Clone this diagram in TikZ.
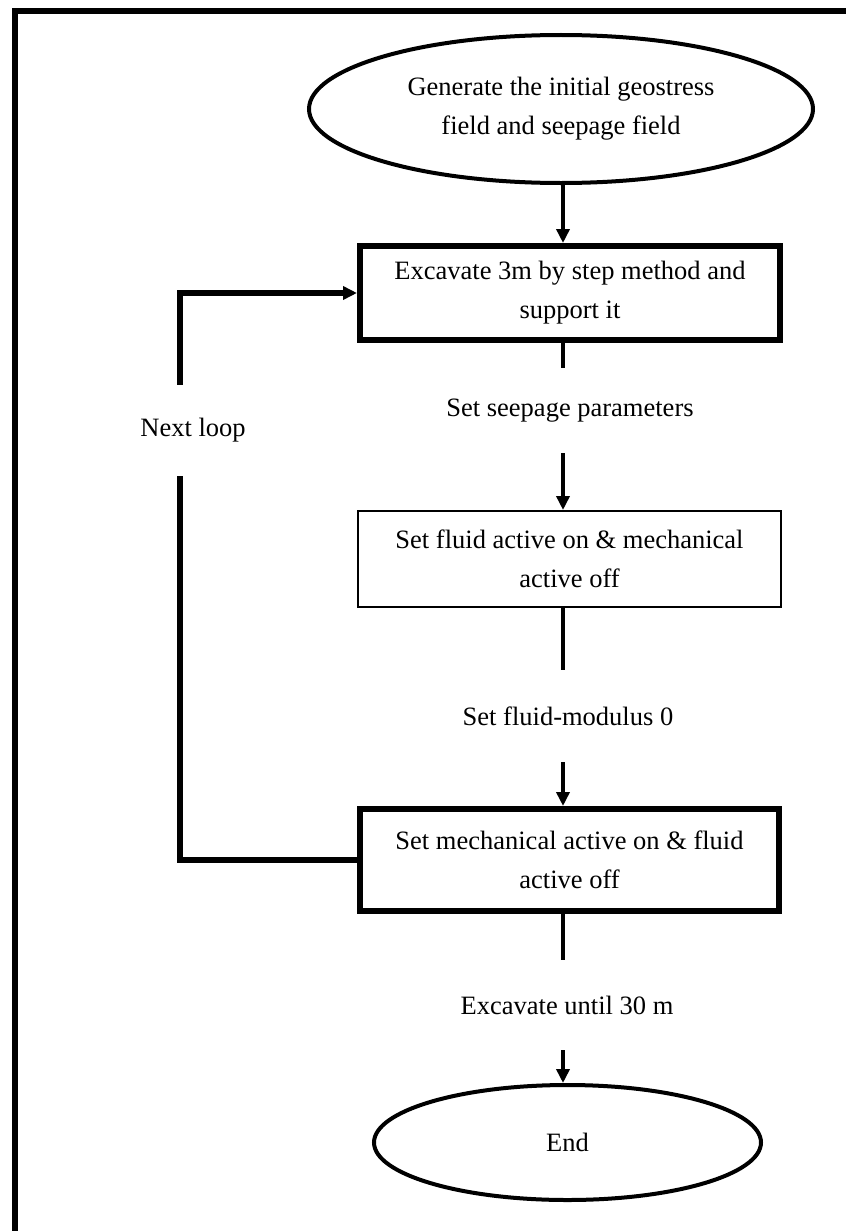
\documentclass[tikz,border=0pt]{standalone}
\usepackage{fontspec}
\setmainfont{Liberation Serif}
\usetikzlibrary{arrows.meta,calc,positioning,shapes.geometric}

\begin{document}
\begin{tikzpicture}[
  x=1pt,y=-1pt,
  >={Triangle[width=13pt,length=14pt]},
  font=\fontsize{26.5}{39}\selectfont,
  terminal/.style={ellipse,draw,line width=4pt,inner sep=0pt,align=center},
  stepbox/.style={rectangle,draw,inner sep=0pt,align=center},
  flowtext/.style={inner sep=0pt,align=center},
  flow/.style={line width=4.5pt},
  loopline/.style={line width=6pt}
]
  \useasboundingbox (0,0) rectangle (846,1231);
  \draw[line width=6pt] (15,1231) -- (15,11) -- (846,11);

  \node[terminal,minimum width=504pt,minimum height=148pt] (start) at (561,109)
    {Generate the initial geostress\\field and seepage field};
  \node[stepbox,line width=6pt,minimum width=420pt,minimum height=94pt] (dig) at (570,293)
    {Excavate 3m by step method and\\support it};
  \node[flowtext,minimum height=85pt] (seep) at (570,410.5) {Set seepage parameters};
  \node[stepbox,line width=2pt,minimum width=423pt,minimum height=96pt] (fluidon) at (569.5,559)
    {Set fluid active on \& mechanical\\active off};
  \node[flowtext,minimum height=92pt] (modulus) at (568,716) {Set fluid-modulus 0};
  \node[stepbox,line width=6pt,minimum width=419pt,minimum height=102pt] (mechon) at (569.5,860)
    {Set mechanical active on \& fluid\\active off};
  \node[flowtext,minimum height=90pt] (until) at (567,1005) {Excavate until 30 m};
  \node[terminal,minimum width=387pt,minimum height=115pt] (finish) at (567.5,1142.5) {End};
  \node[flowtext,minimum height=91pt] (nextloop) at (193,430.5) {Next loop};

  \coordinate (spine) at (563,0);
  \coordinate (loopx) at (180,0);

  \draw[->,flow] (start.south -| spine) -- (dig.north -| spine);
  \draw[flow] (dig.south -| spine) -- (seep.north -| spine);
  \draw[->,flow] (seep.south -| spine) -- (fluidon.north -| spine);
  \draw[flow] (fluidon.south -| spine) -- (modulus.north -| spine);
  \draw[->,flow] (modulus.south -| spine) -- (mechon.north -| spine);
  \draw[flow] (mechon.south -| spine) -- (until.north -| spine);
  \draw[->,flow] (until.south -| spine) -- (finish.north -| spine);

  \draw[loopline] (mechon.west) -- (mechon.west -| loopx) -- (nextloop.south -| loopx);
  \draw[->,loopline] (nextloop.north -| loopx) -- (dig.west -| loopx) -- (dig.west);
\end{tikzpicture}
\end{document}
